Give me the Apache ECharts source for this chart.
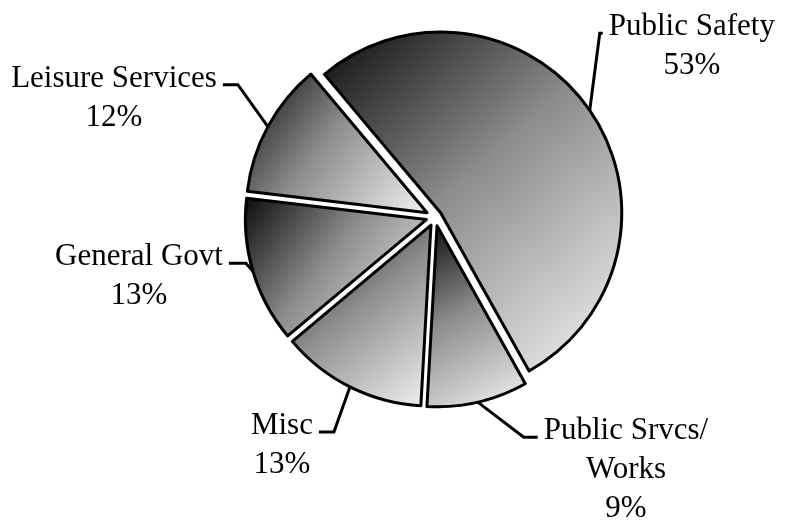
<!DOCTYPE html>
<html>
<head>
<meta charset="utf-8">
<title>Expenditures by Function</title>
<script src="https://cdn.jsdelivr.net/npm/echarts@6/dist/echarts.min.js"></script>
<style>
  html, body { margin: 0; padding: 0; background: #fff; }
  #chart { width: 785px; height: 520px; }
</style>
</head>
<body>
<div id="chart"></div>
<script>
// slices in clockwise order, starting at the top-left edge
const categories = ['Public Safety', 'Public Srvcs/Works', 'Misc', 'General Govt', 'Leisure Services'];
const shares = [53, 9, 13, 13, 12];

const chart = echarts.init(document.getElementById('chart'));

const centerX = 435, centerY = 217, radius = 181;
const startAngle = 130;
// how far each slice is pulled out from the centre
const explode = [7, 9, 9, 9, 9];
// leader lines: elbow relative to the slice edge, then a short flat run
const leaders = [
  { bend: [10, -77], flat: 3 },
  { bend: [46, 35], flat: 14 },
  { bend: [-16, 45], flat: -15 },
  { bend: [-7, -8], flat: -17 },
  { bend: [-30, -42], flat: -15 }
];
const fontFamily = '"Liberation Serif", "Times New Roman", serif';
const fontSize = 31, lineHeight = 39, textGap = 6;

const total = shares.reduce((a, b) => a + b, 0);

const shade = () => new echarts.graphic.LinearGradient(0, 0, 1, 1, [
  { offset: 0, color: '#0a0a0a' },
  { offset: 0.45, color: '#8c8c8c' },
  { offset: 1, color: '#f4f4f4' }
]);

let before = 0;
const series = categories.map((name, i) => {
  const value = shares[i];
  const sliceStart = startAngle - before / total * 360;
  const mid = (sliceStart - value / total * 180) * Math.PI / 180;
  before += value;

  const cx = centerX + explode[i] * Math.cos(mid);
  const cy = centerY - explode[i] * Math.sin(mid);
  const lead = leaders[i];

  return {
    type: 'pie',
    radius: radius,
    center: [cx, cy],
    startAngle: sliceStart,
    clockwise: true,
    avoidLabelOverlap: false,
    animation: false,
    silent: true,
    emphasis: { disabled: true },
    itemStyle: { borderColor: '#000', borderWidth: 3 },
    label: {
      show: true,
      position: 'outside',
      formatter: p => p.name.replace('/', '/\n') + '\n' + p.value + '%',
      fontFamily: fontFamily,
      fontSize: fontSize,
      lineHeight: lineHeight,
      color: '#000'
    },
    labelLine: { show: true, lineStyle: { color: '#000', width: 3 } },
    labelLayout: params => {
      if (params.dataIndex !== 0) return {};
      const pts = params.labelLinePoints;
      const ex = pts ? pts[0][0] : cx + radius * Math.cos(mid);
      const ey = pts ? pts[0][1] : cy - radius * Math.sin(mid);
      const bx = ex + lead.bend[0], by = ey + lead.bend[1];
      const tx = bx + lead.flat;
      const w = params.labelRect.width;
      return {
        x: lead.flat >= 0 ? tx + textGap + w / 2 : tx - textGap - w / 2,
        y: by - 6 - lineHeight / 2,
        align: 'center',
        verticalAlign: 'top',
        labelLinePoints: [[ex, ey], [bx, by], [tx, by]]
      };
    },
    data: [
      { name: name, value: value, itemStyle: { color: shade() } },
      {
        name: '', value: total - value,
        itemStyle: { color: 'rgba(0,0,0,0)', borderWidth: 0 },
        label: { show: false },
        labelLine: { show: false }
      }
    ]
  };
});

chart.setOption({
  backgroundColor: '#fff',
  series: series
});
</script>
</body>
</html>
